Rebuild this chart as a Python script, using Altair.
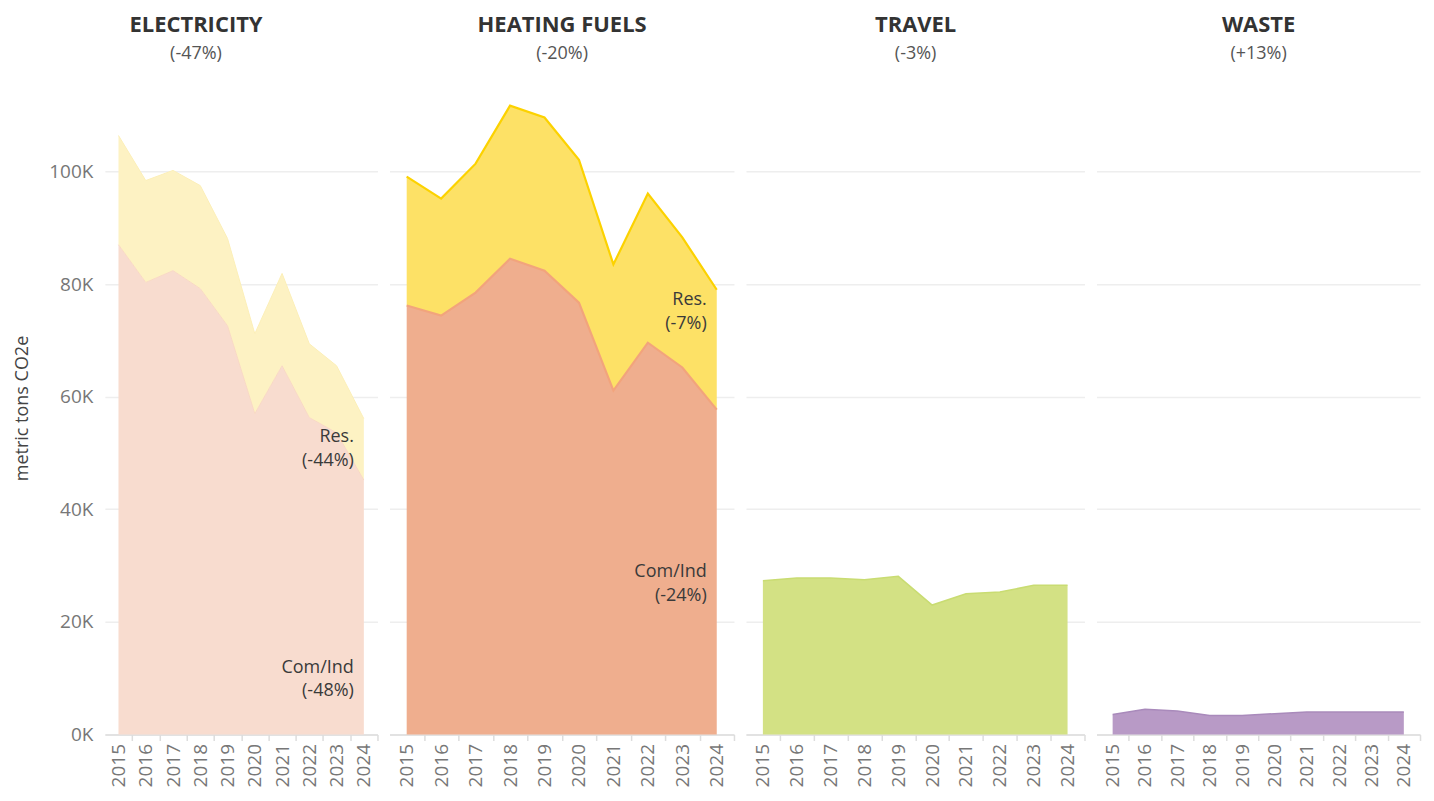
import altair as alt
import pandas as pd

years = [2015, 2016, 2017, 2018, 2019, 2020, 2021, 2022, 2023, 2024]

# metric tons CO2e
elec_com = [87000, 80300, 82400, 79200, 72600, 57000, 65500, 56300, 53600, 45200]
elec_res = [19400, 18100, 17800, 18300, 15500, 14200, 16400, 13100, 11900, 10900]
heat_com = [76200, 74400, 78500, 84500, 82400, 76700, 61100, 69600, 65200, 57700]
heat_res = [22900, 20800, 22900, 27200, 27200, 25400, 22400, 26500, 23100, 21300]
travel = [27300, 27800, 27800, 27500, 28100, 23000, 25000, 25300, 26500, 26500]
waste = [3550, 4500, 4200, 3400, 3400, 3700, 4000, 4000, 4000, 4000]

titles = ["ELECTRICITY", "HEATING FUELS", "TRAVEL", "WASTE"]
subtitles = ["(-47%)", "(-20%)", "(-3%)", "(+13%)"]

# annotation labels: (panel, year, y value, text)
ann_panel = ["ELECTRICITY", "ELECTRICITY", "HEATING FUELS", "HEATING FUELS"]
ann_year = [2024, 2024, 2024, 2024]
ann_value = [54400, 13500, 78700, 30500]
ann_text = ["Res.\n(-44%)", "Com/Ind\n(-48%)", "Res.\n(-7%)", "Com/Ind\n(-24%)"]

FONT = "Open Sans"


def make_df(series_dict):
    rows = []
    for k, (name, vals) in enumerate(series_dict.items()):
        for yr, v in zip(years, vals):
            rows.append({"year": yr, "series": name, "value": v, "ord": k})
    return pd.DataFrame(rows)


panels = [
    dict(df=make_df({"Com/Ind": elec_com, "Res.": elec_res}),
         fills=["#f8dccf", "#fdf2c3"], strokes=["#f9d9c4", "#fcefb8"], sw=1, width=273, axis=True),
    dict(df=make_df({"Com/Ind": heat_com, "Res.": heat_res}),
         fills=["#efae8e", "#fde166"], strokes=["#f2a47c", "#fcd200"], sw=2.2, width=345, axis=False),
    dict(df=make_df({"Travel": travel}),
         fills=["#d3e184"], strokes=["#c9dc72"], sw=1.5, width=339, axis=False),
    dict(df=make_df({"Waste": waste}),
         fills=["#b89ac6"], strokes=["#a98abb"], sw=1.5, width=324, axis=False),
]

ann_df = pd.DataFrame({"panel": ann_panel, "year": ann_year, "value": ann_value, "text": ann_text})

charts = []
for i, p in enumerate(panels):
    df = p["df"]
    series = list(dict.fromkeys(df["series"]))
    half = p["width"] / len(years) / 2
    xenc = alt.X(
        "year:O",
        scale=alt.Scale(type="point", padding=0.5),
        axis=alt.Axis(labelAngle=-90, title=None, ticks=True, tickColor="#dddddd", tickSize=6,
                      tickWidth=1.5, tickOffset=half, labelOffset=-half,
                      domainColor="#dddddd", domainWidth=1.5, labelColor="#777777",
                      labelFontSize=19, labelFont=FONT, labelPadding=3,
                      labelBaseline="middle", labelAlign="right"),
    )
    if p["axis"]:
        yaxis = alt.Axis(values=[0, 20000, 40000, 60000, 80000, 100000],
                         labelExpr="format(datum.value/1000,'d') + 'K'",
                         domain=False, ticks=False, gridColor="#eeeeee", gridWidth=1.5,
                         labelFontSize=19, labelFont=FONT, labelColor="#777777", labelPadding=12,
                         title="metric tons CO2e", titleFont=FONT, titleFontSize=18,
                         titleFontWeight="normal", titleColor="#444444", titlePadding=17)
    else:
        yaxis = alt.Axis(values=[0, 20000, 40000, 60000, 80000, 100000], labels=False,
                         domain=False, ticks=False, gridColor="#eeeeee", gridWidth=1.5, title=None)
    yscale = alt.Scale(domain=[0, 116000], nice=False)
    base = alt.Chart(df).transform_stack(
        stack="value", as_=["v0", "v1"], groupby=["year"],
        sort=[alt.SortField("ord", order="ascending")],
    )
    area = base.mark_area(opacity=1).encode(
        x=xenc,
        y=alt.Y("v1:Q", scale=yscale, axis=yaxis),
        y2="v0:Q",
        fill=alt.Fill("series:N", scale=alt.Scale(domain=series, range=p["fills"]), legend=None),
    )
    line = base.mark_line(strokeWidth=p["sw"]).encode(
        x=xenc,
        y=alt.Y("v1:Q", scale=yscale, axis=yaxis),
        stroke=alt.Stroke("series:N", scale=alt.Scale(domain=series, range=p["strokes"]), legend=None),
    )
    layers = [area, line]
    sub_ann = ann_df[ann_df["panel"] == titles[i]]
    if len(sub_ann):
        txt = alt.Chart(sub_ann).mark_text(
            align="right", baseline="top", dx=-10, fontSize=18, font=FONT,
            lineBreak="\n", lineHeight=24, color="#3a3a3a",
        ).encode(
            x=alt.X("year:O"),
            y=alt.Y("value:Q", stack=None),
            text="text:N",
        )
        layers.append(txt)
    ch = alt.layer(*layers).properties(
        width=p["width"], height=654,
        title=alt.TitleParams(text=titles[i], subtitle=subtitles[i], font=FONT, fontSize=22,
                              fontWeight="bold", color="#333333", subtitleFont=FONT,
                              subtitleFontSize=18, subtitleColor="#555555", anchor="middle",
                              frame="bounds", subtitlePadding=9, offset=17),
    )
    charts.append(ch)

chart = (
    alt.hconcat(*charts, spacing=11)
    .resolve_scale(fill="independent", stroke="independent")
    .properties(background="white")
    .configure_view(strokeWidth=0, stroke=None)
)

chart.save("out.html", embed_options={"renderer": "svg", "actions": False})
